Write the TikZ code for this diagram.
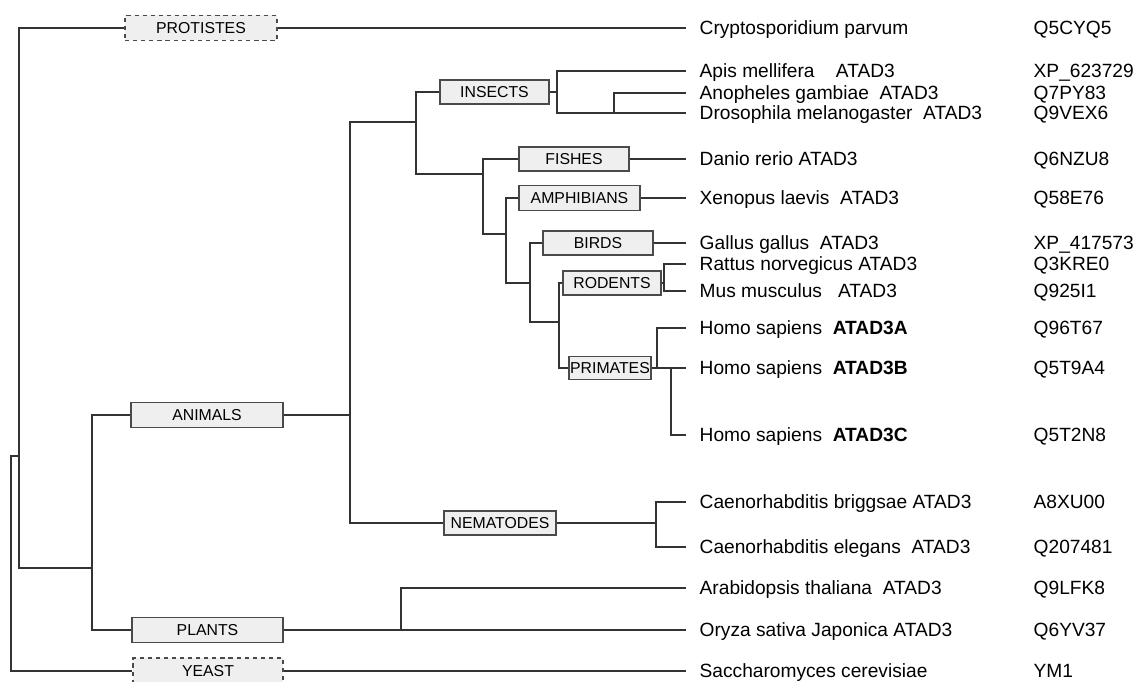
\documentclass[tikz,border=0pt]{standalone}
\usepackage{fontspec}
\setmainfont{Liberation Sans}
\usepackage{tikz}
\definecolor{lignearbre}{HTML}{333333}
\definecolor{fondtaxon}{HTML}{EFEFEF}
\definecolor{bordtaxon}{HTML}{4A4A4A}
\begin{document}
\begin{tikzpicture}[x=0.02cm,y=-0.02cm,line width=0.8pt,lignearbre,
	taxon/.style={draw=bordtaxon,fill=fondtaxon,text=black,inner sep=0pt,font=\fontsize{9}{10}\selectfont,text height=6.5pt,text depth=0pt},
	taxonpointille/.style={taxon,dash pattern=on 2.4pt off 2.2pt},
	leaf/.style={anchor=west,text=black,inner xsep=0.26cm,inner ysep=0pt,font=\fontsize{10.9}{12}\selectfont,text height=7.8pt,text depth=0pt},
	acc/.style={anchor=west,text=black,inner sep=0pt,font=\fontsize{10.9}{12}\selectfont,text height=7.8pt,text depth=0pt}]
			\useasboundingbox (0,0) rectangle (1147,682);
			\node[taxonpointille,minimum width=3.04cm,minimum height=0.5cm] (protistes) at (201,28) {PROTISTES};
			\node[taxon,minimum width=3.04cm,minimum height=0.5cm] (animals) at (207,415) {ANIMALS};
			\node[taxon,minimum width=3.02cm,minimum height=0.5cm] (plants) at (207.5,630) {PLANTS};
			\node[taxonpointille,minimum width=3cm,minimum height=0.52cm] (yeast) at (208,671) {YEAST};
			\node[taxon,minimum width=2.18cm,minimum height=0.48cm] (insects) at (494.5,92) {INSECTS};
			\node[taxon,minimum width=2.2cm,minimum height=0.48cm] (fishes) at (574,159) {FISHES};
			\node[taxon,minimum width=2.42cm,minimum height=0.5cm] (amphibians) at (579.5,198) {AMPHIBIANS};
			\node[taxon,minimum width=2.2cm,minimum height=0.48cm] (birds) at (598,243) {BIRDS};
			\node[taxon,minimum width=1.96cm,minimum height=0.48cm] (rodents) at (612,283) {RODENTS};
			\node[taxon,minimum width=1.64cm,minimum height=0.46cm] (primates) at (610,368) {PRIMATES};
			\node[taxon,minimum width=2.24cm,minimum height=0.48cm] (nematodes) at (500,523) {NEMATODES};
			\node[leaf] (cpar) at (686,28) {Cryptosporidium parvum};
			\node[leaf] (amel) at (686,71) {Apis mellifera\ \ \ \ ATAD3};
			\node[leaf] (agam) at (686,93) {Anopheles gambiae\ \ ATAD3};
			\node[leaf] (dmel) at (686,113) {Drosophila melanogaster\ \ ATAD3};
			\node[leaf] (drer) at (686,159) {Danio rerio ATAD3};
			\node[leaf] (xlae) at (686,198) {Xenopus laevis\ \ ATAD3};
			\node[leaf] (ggal) at (686,243) {Gallus gallus\ \ ATAD3};
			\node[leaf] (rnor) at (686,264) {Rattus norvegicus ATAD3};
			\node[leaf] (mmus) at (686,291) {Mus musculus\ \ \ ATAD3};
			\node[leaf] (hsaA) at (686,328) {Homo sapiens\ \ \textbf{ATAD3A}};
			\node[leaf] (hsaB) at (686,368) {Homo sapiens\ \ \textbf{ATAD3B}};
			\node[leaf] (hsaC) at (686,435) {Homo sapiens\ \ \textbf{ATAD3C}};
			\node[leaf] (cbri) at (686,502) {Caenorhabditis briggsae ATAD3};
			\node[leaf] (cele) at (686,547) {Caenorhabditis elegans\ \ ATAD3};
			\node[leaf] (atha) at (686,588) {Arabidopsis thaliana\ \ ATAD3};
			\node[leaf] (osat) at (686,630) {Oryza sativa Japonica ATAD3};
			\node[leaf] (scer) at (686,671) {Saccharomyces cerevisiae};
			\node[acc] (cpar-id) at (1033,28) {Q5CYQ5};
			\node[acc] (amel-id) at (1033,71) {XP\_623729};
			\node[acc] (agam-id) at (1033,93) {Q7PY83};
			\node[acc] (dmel-id) at (1033,113) {Q9VEX6};
			\node[acc] (drer-id) at (1033,159) {Q6NZU8};
			\node[acc] (xlae-id) at (1033,198) {Q58E76};
			\node[acc] (ggal-id) at (1033,243) {XP\_417573};
			\node[acc] (rnor-id) at (1033,264) {Q3KRE0};
			\node[acc] (mmus-id) at (1033,291) {Q925I1};
			\node[acc] (hsaA-id) at (1033,328) {Q96T67};
			\node[acc] (hsaB-id) at (1033,368) {Q5T9A4};
			\node[acc] (hsaC-id) at (1033,435) {Q5T2N8};
			\node[acc] (cbri-id) at (1033,502) {A8XU00};
			\node[acc] (cele-id) at (1033,547) {Q207481};
			\node[acc] (atha-id) at (1033,588) {Q9LFK8};
			\node[acc] (osat-id) at (1033,630) {Q6YV37};
			\node[acc] (scer-id) at (1033,671) {YM1};
			\coordinate (root) at (11,456);
			\coordinate (n1) at (19,456);
			\coordinate (n1b) at (19,568);
			\coordinate (eu) at (92,568);
			\coordinate (an) at (350,122);
			\coordinate (bil) at (416,122);
			\coordinate (ins) at (557,92);
			\coordinate (dip) at (614,113);
			\coordinate (vert) at (483,174);
			\coordinate (tetra) at (506,234);
			\coordinate (amn) at (530,283);
			\coordinate (mam) at (559,322);
			\coordinate (rod) at (664,283);
			\coordinate (pri1) at (657,368);
			\coordinate (pri2) at (671,368);
			\coordinate (nem) at (656,523);
			\coordinate (pla) at (401,630);
			\draw (yeast.west) -| (root) -- (n1);
			\draw (protistes.west) -| (n1b) -- (eu);
			\draw (animals.west) -| (eu) |- (plants.west);
			\draw (animals.east) -| (an) -- (bil);
			\draw (an) |- (nematodes.west);
			\draw (insects.west) -| (bil) |- (vert);
			\draw (insects.east) -- (ins);
			\draw (amel.west) -| (ins) |- (dmel.west);
			\draw (agam.west) -| (dip);
			\draw (fishes.west) -| (vert) |- (tetra);
			\draw (fishes.east) -- (drer.west);
			\draw (amphibians.west) -| (tetra) |- (amn);
			\draw (amphibians.east) -- (xlae.west);
			\draw (birds.west) -| (amn) |- (mam);
			\draw (birds.east) -- (ggal.west);
			\draw (rodents.west) -| (mam) |- (primates.west);
			\draw (rodents.east) -- (rod);
			\draw (rnor.west) -| (rod) |- (mmus.west);
			\draw (primates.east) -- (hsaB.west);
			\draw (hsaA.west) -| (pri1);
			\draw (pri2) |- (hsaC.west);
			\draw (nematodes.east) -- (nem);
			\draw (cbri.west) -| (nem) |- (cele.west);
			\draw (plants.east) -- (osat.west);
			\draw (atha.west) -| (pla);
			\draw (protistes.east) -- (cpar.west);
			\draw (yeast.east) -- (scer.west);
\end{tikzpicture}
\end{document}
